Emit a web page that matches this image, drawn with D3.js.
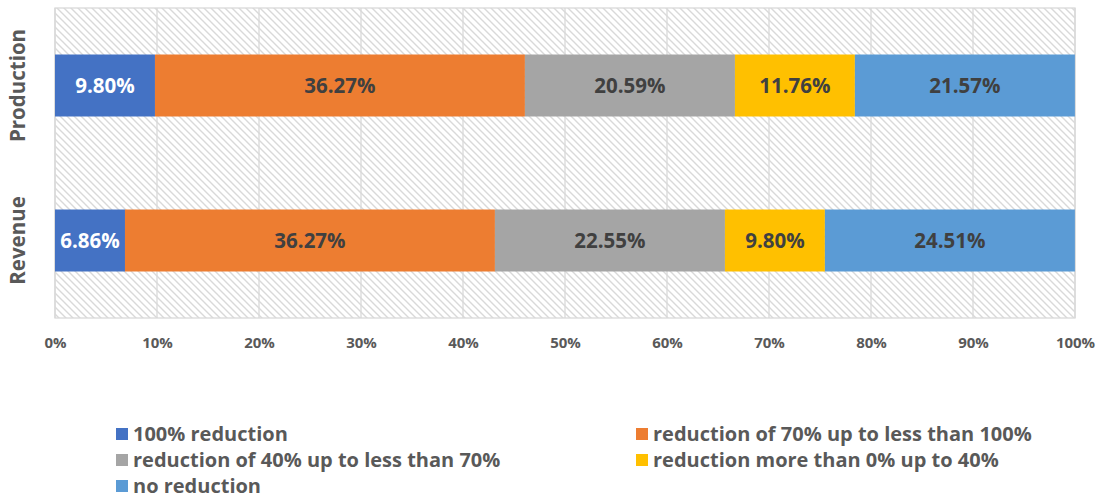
<!DOCTYPE html>
<html>
<head>
<meta charset="utf-8">
<script src="https://cdn.jsdelivr.net/npm/d3@7"></script>
<style>
  html, body { margin: 0; padding: 0; background: #ffffff; }
  svg { display: block; font-family: "Open Sans", "Noto Sans", sans-serif; }
</style>
</head>
<body>
<svg id="chart" width="1101" height="498"></svg>
<script>
// Share of businesses by size of reduction (percent)
const categories = ["Production", "Revenue"];
const seriesNames = [
  "100% reduction",
  "reduction of 70% up to less than 100%",
  "reduction of 40% up to less than 70%",
  "reduction more than 0% up to 40%",
  "no reduction"
];
const production = [9.80, 36.27, 20.59, 11.76, 21.57];
const revenue = [6.86, 36.27, 22.55, 9.80, 24.51];
const tickLabels = ["0%", "10%", "20%", "30%", "40%", "50%", "60%", "70%", "80%", "90%", "100%"];
const colors = ["#4472C4", "#ED7D31", "#A5A5A5", "#FFC000", "#5B9BD5"];

const values = { Production: production, Revenue: revenue };

const svg = d3.select("#chart");
const plot = { left: 55, right: 1075, top: 8, bottom: 318 };
const FONT = "'Open Sans', 'Noto Sans', sans-serif";

// Diagonal hatch used as the plot-area fill
const defs = svg.append("defs");
const pat = defs.append("pattern")
  .attr("id", "hatch")
  .attr("patternUnits", "userSpaceOnUse")
  .attr("width", 7).attr("height", 7);
pat.append("path")
  .attr("d", "M0,0 L7,7 M-3.5,3.5 L3.5,10.5 M3.5,-3.5 L10.5,3.5")
  .attr("stroke", "#d9d9d9")
  .attr("stroke-width", 1.4);

const x = d3.scaleLinear().domain([0, 100]).range([plot.left, plot.right]);
const y = d3.scaleBand().domain(categories).range([plot.top, plot.bottom]).paddingInner(0.6).paddingOuter(0.3);

svg.append("rect")
  .attr("x", plot.left).attr("y", plot.top)
  .attr("width", plot.right - plot.left).attr("height", plot.bottom - plot.top)
  .attr("fill", "url(#hatch)");

// Vertical gridlines
const ticks = d3.range(0, 101, 10);
svg.append("g").selectAll("line").data(ticks).join("line")
  .attr("x1", d => x(d)).attr("x2", d => x(d))
  .attr("y1", plot.top).attr("y2", plot.bottom)
  .attr("stroke", "#d9d9d9").attr("stroke-width", 1.3);

// Plot border
svg.append("rect")
  .attr("x", plot.left).attr("y", plot.top)
  .attr("width", plot.right - plot.left).attr("height", plot.bottom - plot.top)
  .attr("fill", "none").attr("stroke", "#d9d9d9").attr("stroke-width", 1.3);

// Stacked segments
const segs = [];
categories.forEach(cat => {
  let acc = 0;
  values[cat].forEach((v, i) => {
    segs.push({ cat, i, x0: acc, x1: acc + v, v });
    acc += v;
  });
});

const g = svg.append("g");
g.selectAll("rect").data(segs).join("rect")
  .attr("x", d => x(d.x0))
  .attr("y", d => y(d.cat))
  .attr("width", d => x(d.x1) - x(d.x0))
  .attr("height", y.bandwidth())
  .attr("fill", d => colors[d.i]);

g.selectAll("text").data(segs).join("text")
  .attr("x", d => (x(d.x0) + x(d.x1)) / 2)
  .attr("y", d => y(d.cat) + y.bandwidth() / 2)
  .attr("dy", "0.36em")
  .attr("text-anchor", "middle")
  .attr("font-size", 20.5)
  .attr("font-weight", "bold")
  .attr("fill", d => d.i === 0 ? "#ffffff" : "#404040")
  .text(d => d.v.toFixed(2) + "%");

// X axis tick labels
const xAxis = d3.axisBottom(x).tickValues(ticks).tickSize(0).tickPadding(0)
  .tickFormat((d, i) => tickLabels[i]);
const ax = svg.append("g").attr("transform", `translate(0,${plot.bottom + 24.5})`).call(xAxis);
ax.select(".domain").remove();
ax.selectAll("text")
  .attr("font-size", 15).attr("font-weight", "bold").attr("fill", "#595959")
  .attr("font-family", FONT)
  .attr("dy", "0.36em").attr("y", 0);

// Category labels (rotated)
const yAxis = d3.axisLeft(y).tickSize(0).tickPadding(0);
const ay = svg.append("g").attr("transform", `translate(${plot.left - 37},0)`).call(yAxis);
ay.select(".domain").remove();
ay.selectAll("text")
  .attr("transform", "rotate(-90)")
  .attr("x", 0).attr("y", 0).attr("dy", "0.36em")
  .attr("text-anchor", "middle")
  .attr("font-size", 20.5).attr("font-weight", "bold").attr("fill", "#595959")
  .attr("font-family", FONT);

// Legend
const legendPos = [
  { x: 116, y: 434 }, { x: 636, y: 434 },
  { x: 116, y: 460 }, { x: 636, y: 460 },
  { x: 116, y: 486 }
];
const lg = svg.append("g").selectAll("g").data(seriesNames).join("g")
  .attr("transform", (d, i) => `translate(${legendPos[i].x},${legendPos[i].y})`);
lg.append("rect").attr("x", 0).attr("y", -6).attr("width", 12).attr("height", 12)
  .attr("fill", (d, i) => colors[i]);
lg.append("text").attr("x", 17).attr("y", 0).attr("dy", "0.36em")
  .attr("font-size", 20).attr("font-weight", "bold").attr("fill", "#595959")
  .text(d => d);
</script>
</body>
</html>
